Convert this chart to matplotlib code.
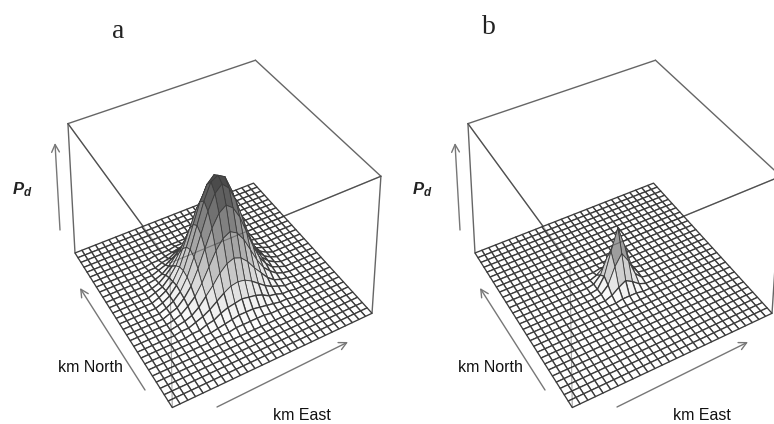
import numpy as np
import matplotlib
matplotlib.use('Agg')
import matplotlib.pyplot as plt
from matplotlib.collections import PolyCollection

plt.rcParams['font.family'] = ['Liberation Sans', 'DejaVu Sans']
plt.rcParams['mathtext.fontset'] = 'custom'
plt.rcParams['mathtext.it'] = 'Liberation Sans:italic:bold'

# P_d in percent of box height, nodes around the centre of the 29x29 grid
# everything outside the patch is flat
heights_a = [
    [0, 0, 0, 1, 1, 1, 2, 2, 2, 2, 2, 1, 1, 1, 0, 0, 0],
    [0, 0, 1, 1, 2, 3, 4, 5, 5, 5, 4, 3, 2, 1, 1, 0, 0],
    [0, 1, 1, 3, 4, 7, 9, 10, 11, 10, 9, 7, 4, 3, 1, 1, 0],
    [1, 1, 3, 5, 8, 12, 16, 19, 20, 19, 16, 12, 8, 5, 3, 1, 1],
    [1, 2, 4, 8, 14, 20, 27, 32, 34, 32, 27, 20, 14, 8, 4, 2, 1],
    [1, 3, 7, 12, 20, 30, 40, 47, 50, 47, 40, 30, 20, 12, 7, 3, 1],
    [2, 4, 9, 16, 27, 40, 53, 62, 66, 62, 53, 40, 27, 16, 9, 4, 2],
    [2, 5, 10, 19, 32, 47, 62, 73, 78, 73, 62, 47, 32, 19, 10, 5, 2],
    [2, 5, 11, 20, 34, 50, 66, 78, 81, 78, 66, 50, 34, 20, 11, 5, 2],
    [2, 5, 10, 19, 32, 47, 62, 73, 78, 73, 62, 47, 32, 19, 10, 5, 2],
    [2, 4, 9, 16, 27, 40, 53, 62, 66, 62, 53, 40, 27, 16, 9, 4, 2],
    [1, 3, 7, 12, 20, 30, 40, 47, 50, 47, 40, 30, 20, 12, 7, 3, 1],
    [1, 2, 4, 8, 14, 20, 27, 32, 34, 32, 27, 20, 14, 8, 4, 2, 1],
    [1, 1, 3, 5, 8, 12, 16, 19, 20, 19, 16, 12, 8, 5, 3, 1, 1],
    [0, 1, 1, 3, 4, 7, 9, 10, 11, 10, 9, 7, 4, 3, 1, 1, 0],
    [0, 0, 1, 1, 2, 3, 4, 5, 5, 5, 4, 3, 2, 1, 1, 0, 0],
    [0, 0, 0, 1, 1, 1, 2, 2, 2, 2, 2, 1, 1, 1, 0, 0, 0],
]
heights_b = [
    [0, 0, 1, 1, 1, 0, 0],
    [0, 2, 6, 9, 6, 2, 0],
    [1, 6, 18, 26, 18, 6, 1],
    [1, 9, 26, 42, 26, 9, 1],
    [1, 6, 18, 26, 18, 6, 1],
    [0, 2, 6, 9, 6, 2, 0],
    [0, 0, 1, 1, 1, 0, 0],
]
panel_letters = ['a', 'b']
xlabel = 'km East'
ylabel = 'km North'
zlabel = r'$P_d$'

N_NODES = 29

# box corners (east, north, up) and where they land in the picture
box_world = np.array([
    [0, 0, 0], [1, 0, 0], [0, 1, 0], [1, 1, 0],
    [0, 0, 1], [1, 0, 1], [0, 1, 1], [1, 1, 1],
], dtype=float)
box_px = np.array([
    [173, 408], [372, 313], [75, 253], [253, 183],
    [169, 262], [381, 177], [68, 124], [256, 60],
], dtype=float)


def fit_camera(world, px):
    rows = []
    for (x, y, z), (u, v) in zip(world, px):
        rows.append([x, y, z, 1, 0, 0, 0, 0, -u*x, -u*y, -u*z, -u])
        rows.append([0, 0, 0, 0, x, y, z, 1, -v*x, -v*y, -v*z, -v])
    _, _, vt = np.linalg.svd(np.array(rows))
    return vt[-1].reshape(3, 4)


CAM = fit_camera(box_world, box_px)


def project(x, y, z):
    pts = np.stack([x, y, z, np.ones_like(x)], axis=-1) @ CAM.T
    return pts[..., :2] / pts[..., 2:]


def edge(ax, a, b, dx, **kw):
    p = project(*np.array([box_world[a], box_world[b]]).T)
    ax.plot(p[:, 0] + dx, p[:, 1], solid_capstyle='round', **kw)


def draw_panel(ax, dx, patch, dark):
    patch = np.array(patch) / 100
    z = np.zeros((N_NODES, N_NODES))
    c = N_NODES // 2
    n = patch.shape[0] // 2
    z[c-n:c+n+1, c-n:c+n+1] = patch

    # back of the box
    for a, b in [(2, 6), (1, 5), (6, 7), (7, 5), (6, 4), (5, 4)]:
        edge(ax, a, b, dx, color='#666666', lw=1.0, zorder=1)

    g = np.linspace(0, 1, N_NODES)
    xx, yy = np.meshgrid(g, g, indexing='ij')
    p = project(xx, yy, z)
    p[..., 0] += dx

    cells = []
    for i in range(N_NODES - 1):
        for j in range(N_NODES - 1):
            cells.append((i + j, i, j))
    cells.sort(reverse=True)

    polys, faces, widths = [], [], []
    for _, i, j in cells:
        polys.append([p[i, j], p[i+1, j], p[i+1, j+1], p[i, j+1]])
        m = (z[i, j] + z[i+1, j] + z[i+1, j+1] + z[i, j+1]) / 4 / z.max()
        lev = 1 - dark * m ** 1.1
        faces.append((lev, lev, lev))
        # lines get thinner on the raised part so the shading shows
        widths.append(0.6 if m > 0.15 else 0.95)
    ax.add_collection(PolyCollection(polys, facecolors=faces, edgecolors='#3c3c3c',
                                     linewidths=widths, zorder=2))

    # front of the box shows through the surface
    for a, b in [(0, 4), (6, 4), (5, 4)]:
        edge(ax, a, b, dx, color='#333333', lw=0.8, alpha=0.45, zorder=3)


def arrow(ax, tail, tip, dx):
    ax.annotate('', xy=(tip[0] + dx, tip[1]), xytext=(tail[0] + dx, tail[1]),
                arrowprops=dict(arrowstyle='->,head_length=0.55,head_width=0.28',
                                color='#777777', lw=1.0, shrinkA=0, shrinkB=0))


fig = plt.figure(figsize=(7.74, 4.24), dpi=100)
ax = fig.add_axes([0, 0, 1, 1])
ax.set_xlim(0, 774)
ax.set_ylim(424, 0)
ax.axis('off')

draw_panel(ax, 0, heights_a, 0.74)
draw_panel(ax, 400, heights_b, 0.6)

for dx, letter, lx, ly in [(0, panel_letters[0], 118, 32), (400, panel_letters[1], 89, 28)]:
    ax.text(dx + lx, ly, letter, family='Liberation Serif', fontsize=20,
            ha='center', va='center', color='#222222')
    ax.text(dx + 22, 190, zlabel, fontsize=12, ha='center', va='center', color='#222222')
    ax.text(dx + 90.5, 367, ylabel, fontsize=11.5, ha='center', va='center', color='#111111')
    ax.text(301.5 if dx == 0 else 702, 416, xlabel, fontsize=11.5, ha='center', va='center', color='#111111')
    arrow(ax, (60, 230), (55, 143), dx)
    arrow(ax, (145, 390), (80, 288), dx)
    arrow(ax, (217, 407), (348, 342), dx)

fig.savefig('out.png', dpi=100)
